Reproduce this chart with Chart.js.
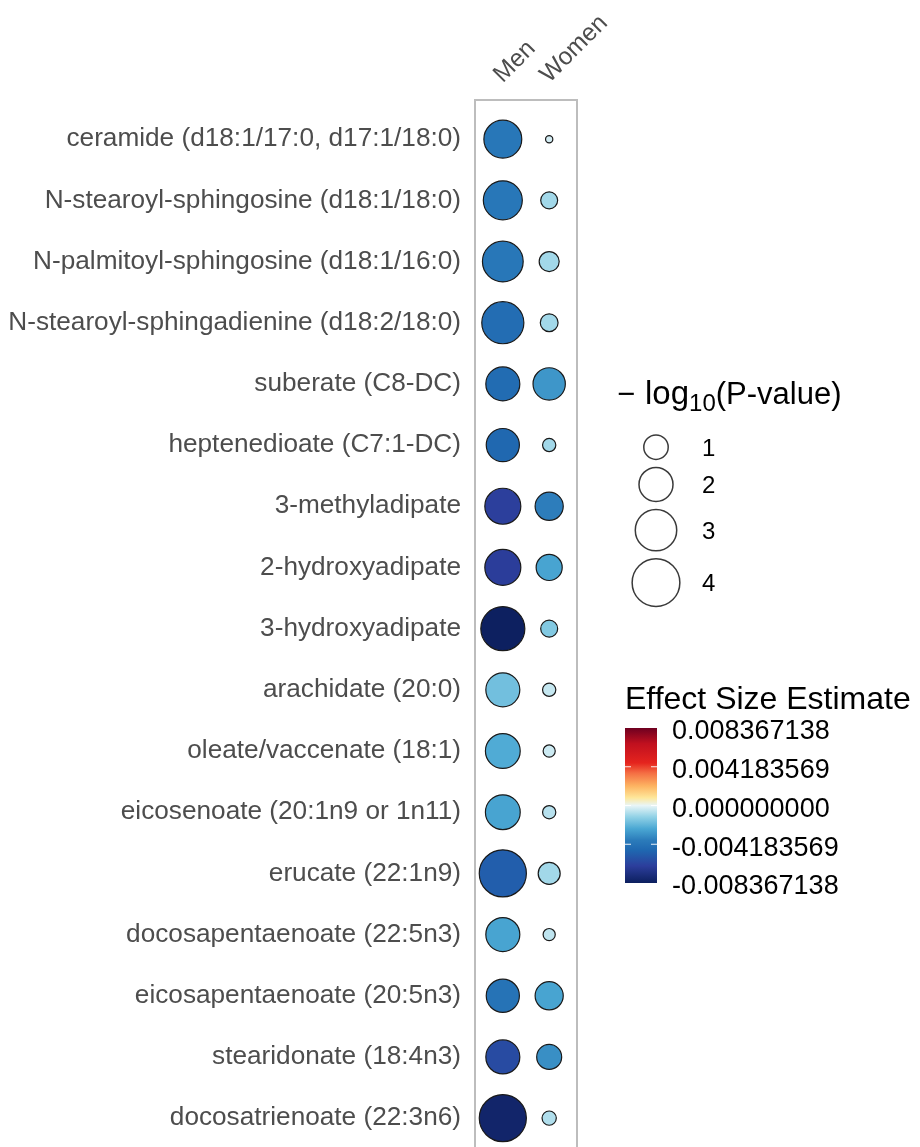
<!DOCTYPE html>
<html>
<head>
<meta charset="utf-8">
<script src="https://cdn.jsdelivr.net/npm/chart.js@4.4.1/dist/chart.umd.min.js"></script>
<style>
  html, body { margin: 0; padding: 0; background: #fff; overflow: hidden; width: 920px; height: 1147px; }
  canvas { display: block; }
</style>
</head>
<body>
<canvas id="chart" width="920" height="1187"></canvas>
<script>
// metabolites, top to bottom
const metabolites = [
  'ceramide (d18:1/17:0, d17:1/18:0)',
  'N-stearoyl-sphingosine (d18:1/18:0)',
  'N-palmitoyl-sphingosine (d18:1/16:0)',
  'N-stearoyl-sphingadienine (d18:2/18:0)',
  'suberate (C8-DC)',
  'heptenedioate (C7:1-DC)',
  '3-methyladipate',
  '2-hydroxyadipate',
  '3-hydroxyadipate',
  'arachidate (20:0)',
  'oleate/vaccenate (18:1)',
  'eicosenoate (20:1n9 or 1n11)',
  'erucate (22:1n9)',
  'docosapentaenoate (22:5n3)',
  'eicosapentaenoate (20:5n3)',
  'stearidonate (18:4n3)',
  'docosatrienoate (22:3n6)'
];
const groups = ['Men', 'Women'];

// -log10(P-value)
const menLogP   = [2.5, 2.65, 2.9, 3.1, 2.0, 1.9, 2.25, 2.25, 3.4, 2.0, 2.1, 2.1, 3.9, 2.0, 1.9, 2.0, 3.9];
const womenLogP = [0.03, 0.45, 0.65, 0.5, 1.8, 0.25, 1.35, 1.15, 0.45, 0.25, 0.2, 0.25, 0.8, 0.2, 1.35, 1.05, 0.3];

// effect size estimates, read from fill colours
const menEffect   = [-0.0040, -0.0040, -0.0040, -0.0045, -0.0046, -0.0048, -0.0065, -0.0066, -0.0083,
                     -0.0018, -0.0024, -0.0026, -0.0052, -0.0026, -0.0042, -0.0060, -0.0080];
const womenEffect = [-0.0003, -0.0010, -0.0010, -0.0010, -0.0030, -0.0010, -0.0037, -0.0026, -0.0015,
                     -0.0005, -0.0004, -0.0007, -0.0010, -0.0006, -0.0026, -0.0032, -0.0008];

const sizeBreaks = [1, 2, 3, 4];
const effectLimit = 0.008367138;
const effectTicks = [0.008367138, 0.004183569, 0, -0.004183569, -0.008367138];
const effectTickLabels = ['0.008367138', '0.004183569', '0.000000000', '-0.004183569', '-0.008367138'];

// colour ramp, position in [-1, 1] of the limit
const rampStops = [
  [-1.00, '#0c1f5e'], [-0.78, '#2c3e9c'], [-0.58, '#1f67b0'], [-0.45, '#2b7bba'],
  [-0.30, '#4aa7d3'], [-0.15, '#90d1e6'], [0.00, '#e8f5f7'], [0.10, '#fee79a'],
  [0.25, '#fdb462'], [0.42, '#f46d43'], [0.55, '#e5241e'], [0.80, '#c0101f'], [1.00, '#6e0020']
];

const hexRgb = h => [1, 3, 5].map(i => parseInt(h.slice(i, i + 2), 16));
const effectColor = e => {
  let t = Math.max(-1, Math.min(1, e / effectLimit));
  for (let k = 1; k < rampStops.length; k++) {
    if (t <= rampStops[k][0]) {
      let [t0, c0] = rampStops[k - 1], [t1, c1] = rampStops[k];
      let f = (t - t0) / (t1 - t0), a = hexRgb(c0), b = hexRgb(c1);
      return `rgb(${a.map((v, j) => Math.round(v + (b[j] - v) * f)).join(',')})`;
    }
  }
  return rampStops[rampStops.length - 1][1];
};
// area scale for -log10(P)
const sizeScale = v => Math.sqrt(9 + 140 * v);

const makeSet = (label, col, logp, eff) => ({
  label,
  data: metabolites.map((m, i) => ({ x: col, y: i, r: sizeScale(logp[i]) })),
  backgroundColor: eff.map(effectColor),
  borderColor: '#1a1a1a',
  borderWidth: 1.2,
  hoverRadius: 0
});

const FONT = '"Liberation Sans", Arial, sans-serif';

const extras = {
  id: 'extras',
  beforeDatasetsDraw(chart) {
    const { ctx, chartArea: a } = chart;
    ctx.save();
    ctx.strokeStyle = '#bdbdbd';
    ctx.lineWidth = 2;
    ctx.strokeRect(a.left, a.top, a.right - a.left, a.bottom - a.top);
    ctx.restore();
  },
  afterDraw(chart) {
    const ctx = chart.ctx;
    ctx.save();
    ctx.fillStyle = '#000';
    ctx.textBaseline = 'alphabetic';

    // size legend title: -log10(P-value)
    let x = 617, y = 404;
    ctx.font = `31px ${FONT}`;
    ctx.fillText('\u2212', x, y);
    x = 645;
    ctx.font = `33px ${FONT}`;
    ctx.fillText('log', x, y); x += ctx.measureText('log').width;
    ctx.font = `24px ${FONT}`;
    ctx.fillText('10', x, y + 7); x += ctx.measureText('10').width;
    ctx.font = `31px ${FONT}`;
    ctx.fillText('(P-value)', x, y);

    // size legend keys
    let cy = 431;
    ctx.font = `24px ${FONT}`;
    ctx.textBaseline = 'middle';
    sizeBreaks.forEach((v, i) => {
      const r = sizeScale(v), h = 2 * r + 8;
      if (i === 0) cy += h / 2; else cy += (h + 2 * sizeScale(sizeBreaks[i - 1]) + 8) / 2;
      ctx.beginPath();
      ctx.arc(656, cy, r, 0, Math.PI * 2);
      ctx.fillStyle = '#fff';
      ctx.fill();
      ctx.strokeStyle = '#3a3a3a';
      ctx.lineWidth = 1.5;
      ctx.stroke();
      ctx.fillStyle = '#000';
      ctx.fillText(String(v), 702, cy + 2);
    });

    // colour bar
    const bx = 625, bw = 32, top = 728, bot = 883;
    ctx.textBaseline = 'alphabetic';
    ctx.font = `32px ${FONT}`;
    ctx.fillText('Effect Size Estimate', 625, 709);
    const g = ctx.createLinearGradient(0, bot, 0, top);
    rampStops.forEach(([t, c]) => g.addColorStop((t + 1) / 2, c));
    ctx.fillStyle = g;
    ctx.fillRect(bx, top, bw, bot - top);
    ctx.font = `27px ${FONT}`;
    ctx.textBaseline = 'middle';
    effectTicks.forEach((v, i) => {
      const ty = top + (effectLimit - v) / (2 * effectLimit) * (bot - top);
      if (i > 0 && i < effectTicks.length - 1) {
        ctx.strokeStyle = 'rgba(255,255,255,0.9)';
        ctx.lineWidth = 1.2;
        ctx.beginPath();
        ctx.moveTo(bx, ty); ctx.lineTo(bx + 6, ty);
        ctx.moveTo(bx + bw - 6, ty); ctx.lineTo(bx + bw, ty);
        ctx.stroke();
      }
      ctx.fillStyle = '#000';
      ctx.fillText(effectTickLabels[i], 672, ty + 4);
    });
    ctx.restore();
  }
};

new Chart(document.getElementById('chart'), {
  type: 'bubble',
  data: {
    datasets: [
      makeSet('Men', 0, menLogP, menEffect),
      makeSet('Women', 1, womenLogP, womenEffect)
    ]
  },
  options: {
    responsive: false,
    animation: false,
    events: [],
    layout: { padding: { left: 0, right: 343, top: 0, bottom: 0 } },
    plugins: { legend: { display: false }, tooltip: { enabled: false } },
    scales: {
      x: {
        type: 'linear',
        position: 'top',
        min: -0.6, max: 1.6,
        afterBuildTicks: s => { s.ticks = groups.map((g, i) => ({ value: i })); },
        afterFit: s => { s.height = 100; },
        grid: { display: false, drawTicks: false },
        border: { display: false },
        ticks: {
          autoSkip: false,
          minRotation: 45, maxRotation: 45,
          padding: 11,
          labelOffset: 16,
          color: '#4d4d4d',
          font: { family: FONT, size: 24.5 },
          callback: v => groups[v]
        }
      },
      y: {
        type: 'linear',
        reverse: true,
        min: -0.64, max: 16.64,
        afterBuildTicks: s => { s.ticks = metabolites.map((m, i) => ({ value: i })); },
        afterFit: s => { s.width = 475; },
        grid: { display: false, drawTicks: false },
        border: { display: false },
        ticks: {
          autoSkip: false,
          padding: 14,
          color: '#4d4d4d',
          font: { family: FONT, size: 26.2 },
          callback: v => metabolites[v]
        }
      }
    }
  },
  plugins: [extras]
});
</script>
</body>
</html>
